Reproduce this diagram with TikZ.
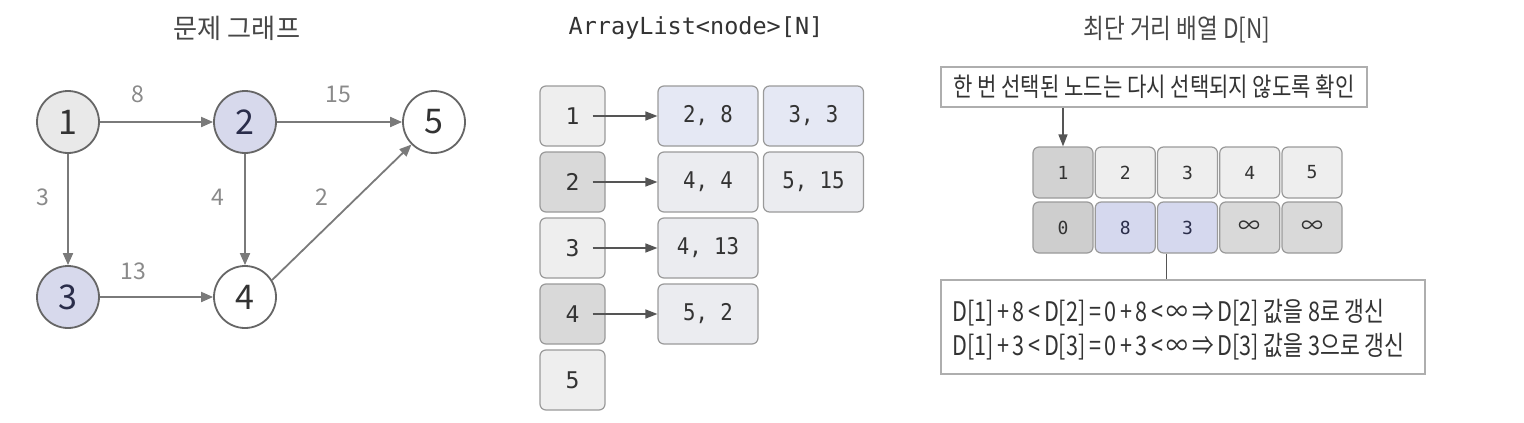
\documentclass[tikz,border=0pt]{standalone}
\usepackage{fontspec}
\usepackage{graphicx}
\newfontfamily\kr{Noto Sans CJK KR}
\newfontfamily\mono{DejaVu Sans Mono}
\usetikzlibrary{arrows.meta}
\definecolor{cBorder}{HTML}{666666}
\definecolor{cGrayA}{HTML}{E9E9E9}
\definecolor{cLav}{HTML}{D7D9EC}
\definecolor{cEdge}{HTML}{7A7A7A}
\definecolor{cLabel}{HTML}{8A8A8A}
\definecolor{cDark}{HTML}{333333}
\definecolor{cNavy}{HTML}{2A2D4A}
\definecolor{cBox}{HTML}{9A9A9A}
\definecolor{cLight}{HTML}{EEEEEE}
\definecolor{cMid}{HTML}{D9D9D9}
\definecolor{cLavL}{HTML}{E5E8F4}
\definecolor{cGrayB}{HTML}{EBECF0}
\definecolor{cDarkCell}{HTML}{D2D2D2}
\definecolor{cLavC}{HTML}{D5D8EE}
\definecolor{cArr}{HTML}{555555}
\newcommand{\nar}[2]{\scalebox{#1}[1]{#2}}
\newcommand{\infsym}{{\kr\fontsize{22}{22}\selectfont ∞}}
\begin{document}
\begin{tikzpicture}[x=1pt,y=-1pt,
  circ/.style={circle, draw=cBorder, line width=1.8pt, minimum size=62pt, inner sep=0pt,
    font=\kr\fontsize{34}{34}\selectfont, text=cDark},
  elabel/.style={font=\kr\fontsize{23}{23}\selectfont, text=cLabel, inner sep=0pt},
  edge/.style={draw=cEdge, line width=1.8pt, -{Triangle[length=12pt,width=10pt]}},
  arr/.style={draw=cArr, line width=1.5pt, -{Triangle[length=12pt,width=9pt]}},
  title/.style={font=\kr\fontsize{27}{27}\selectfont, text=cDark!90, inner sep=0pt},
  lbox/.style={rectangle, rounded corners=6pt, draw=cBox, line width=1.2pt,
    minimum width=65pt, minimum height=60pt, inner sep=0pt,
    font=\mono\fontsize{23}{23}\selectfont, text=cDark},
  wbox/.style={lbox, minimum width=100pt},
  cell/.style={rectangle, rounded corners=6pt, draw=cBox, line width=1.2pt,
    minimum width=60pt, minimum height=51pt, inner sep=0pt,
    font=\mono\fontsize{18}{18}\selectfont, text=cDark},
  plainbox/.style={rectangle, draw=cBox!80, line width=1.2pt, fill=white, inner sep=0pt},
  ftext/.style={font=\kr\fontsize{27}{27}\selectfont, text=cDark, inner sep=0pt, anchor=west}
]
\useasboundingbox[fill=white] (0,0) rectangle (1524,423);

% ---------- Left panel: graph ----------
\node[title] (t1) at (237,28) {\nar{0.97}{문제 그래프}};
\node[circ, fill=cGrayA] (n1) at (68,122) {1};
\node[circ, fill=cLav, text=cNavy] (n2) at (245,122) {2};
\node[circ, fill=white] (n5) at (434,122) {5};
\node[circ, fill=cLav, text=cNavy] (n3) at (68,297) {3};
\node[circ, fill=white] (n4) at (245,297) {4};
\draw[edge] (n1) -- (n2);
\draw[edge] (n2) -- (n5);
\draw[edge] (n1) -- (n3);
\draw[edge] (n2) -- (n4);
\draw[edge] (n3) -- (n4);
\draw[edge] (n4.32) -- (n5.225);
\node[elabel] (w12) at (138,94) {8};
\node[elabel] (w25) at (338,94) {15};
\node[elabel] (w13) at (43,197) {3};
\node[elabel] (w24) at (218,197) {4};
\node[elabel] (w45) at (322,197) {2};
\node[elabel] (w34) at (133,271) {13};

% ---------- Middle panel: adjacency list ----------
\node[font=\mono\fontsize{23.5}{23.5}\selectfont, text=cDark, inner sep=0pt] (t2) at (696,28) {ArrayList<node>[N]};
\node[lbox, fill=cLight] (l1) at (572.5,116) {1};
\node[lbox, fill=cMid] (l2) at (572.5,182) {2};
\node[lbox, fill=cLight] (l3) at (572.5,248) {3};
\node[lbox, fill=cMid] (l4) at (572.5,314) {4};
\node[lbox, fill=cLight] (l5) at (572.5,380) {5};
\node[wbox, fill=cLavL] (a1) at (708,116) {\nar{0.9}{2, 8}};
\node[wbox, fill=cLavL] (b1) at (813.5,116) {\nar{0.9}{3, 3}};
\node[wbox, fill=cGrayB] (a2) at (708,182) {\nar{0.9}{4, 4}};
\node[wbox, fill=cGrayB] (b2) at (813.5,182) {\nar{0.9}{5, 15}};
\node[wbox, fill=cGrayB] (a3) at (708,248) {\nar{0.9}{4, 13}};
\node[wbox, fill=cGrayB] (a4) at (708,314) {\nar{0.9}{5, 2}};
\foreach \i in {1,2,3,4}{
  \coordinate (s\i) at ([xshift=20pt]l\i.center);
  \draw[arr] (s\i) -- (a\i.west);
}

% ---------- Right panel: distance array ----------
\node[title] (t3) at (1177,30) {\nar{0.835}{최단 거리 배열 D[N]}};
\node[plainbox, minimum width=426pt, minimum height=40pt,
  font=\kr\fontsize{26}{26}\selectfont, text=cDark] (note) at (1154,87)
  {\nar{0.81}{한 번 선택된 노드는 다시 선택되지 않도록 확인}};
\node[cell, fill=cDarkCell] (c1) at (1063,172.5) {1};
\node[cell, fill=cLight] (c2) at (1125.25,172.5) {2};
\node[cell, fill=cLight] (c3) at (1187.5,172.5) {3};
\node[cell, fill=cLight] (c4) at (1249.75,172.5) {4};
\node[cell, fill=cLight] (c5) at (1312,172.5) {5};
\node[cell, fill=cMid!95!black] (d1) at (1063,227.5) {0};
\node[cell, fill=cLavC, text=cNavy] (d2) at (1125.25,227.5) {8};
\node[cell, fill=cLavC, text=cNavy] (d3) at (1187.5,227.5) {3};
\node[cell, fill=cMid] (d4) at (1249.75,227.5) {\infsym};
\node[cell, fill=cMid] (d5) at (1312,227.5) {\infsym};
\draw[arr] (note.south -| c1) -- (c1.north);
\node[plainbox, minimum width=484pt, minimum height=94pt] (res) at (1183,327) {};
\coordinate (k1) at ([xshift=-21pt]d3.south);
\draw[draw=cArr, line width=1.5pt] (k1) -- (k1 |- res.north);
\node[ftext] (f1) at (952,313) {\nar{0.8}{D[1]\,+\,8\,<\,D[2]\,=\,0\,+\,8\,<\,∞\,⇒\,D[2] 값을 8로 갱신}};
\node[ftext] (f2) at (952,347) {\nar{0.8}{D[1]\,+\,3\,<\,D[3]\,=\,0\,+\,3\,<\,∞\,⇒\,D[3] 값을 3으로 갱신}};
\end{tikzpicture}
\end{document}
